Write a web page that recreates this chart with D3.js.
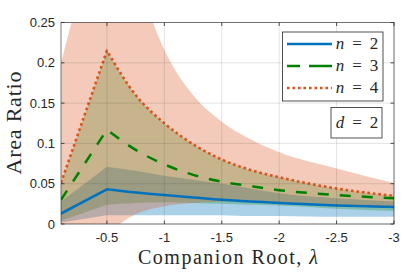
<!DOCTYPE html>
<html><head><meta charset="utf-8">
<script src="https://cdn.jsdelivr.net/npm/d3@7"></script>
<style>html,body{margin:0;padding:0;background:#fff;}svg{display:block;}</style>
</head><body>
<svg id="chart" width="407" height="272"></svg>
<script>
const lambda  = [-0.1, -0.5, -0.75, -1, -1.25, -1.5, -1.75, -2, -2.5, -3];
const n2Mean  = [0.013, 0.043, 0.039, 0.036, 0.033, 0.030, 0.028, 0.026, 0.023, 0.021];
const n2Upper = [0.028, 0.071, 0.066, 0.060, 0.055, 0.050, 0.044, 0.038, 0.032, 0.028];
const n2Lower = [0.002, 0.011, 0.011, 0.011, 0.011, 0.011, 0.010, 0.010, 0.009, 0.009];
const n3Mean  = [0.030, 0.117, 0.092, 0.074, 0.061, 0.0525, 0.047, 0.042, 0.036, 0.032];
const n3Upper = [0.051, 0.215, 0.160, 0.125, 0.099, 0.080, 0.067, 0.058, 0.044, 0.035];
const n3Lower = [0.004, 0.024, 0.026, 0.027, 0.026, 0.025, 0.024, 0.023, 0.019, 0.016];
const n4Mean  = [0.051, 0.215, 0.160, 0.125, 0.099, 0.080, 0.067, 0.058, 0.044, 0.035];
const n4Upper = [0.200, 0.420, 0.310, 0.216, 0.160, 0.127, 0.105, 0.089, 0.069, 0.051];
const n4Lower = [-0.010, -0.012, 0.012, 0.022, 0.026, 0.028, 0.028, 0.027, 0.023, 0.020];
const xTicks = [-0.5, -1, -1.5, -2, -2.5, -3];
const xTickLabels = ["-0.5", "-1", "-1.5", "-2", "-2.5", "-3"];
const yTicks = [0, 0.05, 0.1, 0.15, 0.2, 0.25];
const yTickLabels = ["0", "0.05", "0.1", "0.15", "0.2", "0.25"];
const seriesNames = ["2", "3", "4"];
const colors = ["#0072BD", "#008000", "#D95319"];

const svg = d3.select("#chart");
const L = 61, R = 394, T = 22.5, B = 224;
const x = d3.scaleLinear().domain([-0.1, -3]).range([L, R]);
const y = d3.scaleLinear().domain([0, 0.25]).range([B, T]);

svg.append("defs").append("clipPath").attr("id", "clip")
  .append("rect").attr("x", L).attr("y", T).attr("width", R - L).attr("height", B - T);

// first segment straight, remaining segments smooth (monotone)
const mono = d3.line().x(d => x(d[0])).y(d => y(d[1])).curve(d3.curveMonotoneX);
function edge(vals) {
  const pts = lambda.map((v, i) => [v, vals[i]]);
  return {first: pts[0], tail: pts.slice(1)};
}
function linePath(vals) {
  const e = edge(vals);
  return "M" + x(e.first[0]) + "," + y(e.first[1]) + mono(e.tail).replace(/^M/, "L");
}
function bandPath(lo, hi) {
  const u = edge(hi), l = edge(lo);
  return "M" + x(u.first[0]) + "," + y(u.first[1]) +
    mono(u.tail).replace(/^M/, "L") +
    mono(l.tail.slice().reverse()).replace(/^M/, "L") +
    "L" + x(l.first[0]) + "," + y(l.first[1]) + "Z";
}

const plot = svg.append("g").attr("clip-path", "url(#clip)");
const bands = [
  {lo: n2Lower, hi: n2Upper, c: colors[0], a: 0.33},
  {lo: n3Lower, hi: n3Upper, c: colors[1], a: 0.25},
  {lo: n4Lower, hi: n4Upper, c: colors[2], a: 0.3}
];
bands.forEach(b => {
  plot.append("path").attr("d", bandPath(b.lo, b.hi)).attr("fill", b.c).attr("fill-opacity", b.a);
});

// grid
const grid = svg.append("g");
xTicks.forEach(t => grid.append("line").attr("x1", x(t)).attr("x2", x(t)).attr("y1", T).attr("y2", B)
  .attr("stroke", "#262626").attr("stroke-opacity", 0.13).attr("stroke-width", 1));
yTicks.forEach(t => grid.append("line").attr("x1", L).attr("x2", R).attr("y1", y(t)).attr("y2", y(t))
  .attr("stroke", "#262626").attr("stroke-opacity", 0.13).attr("stroke-width", 1));

const means = [n2Mean, n3Mean, n4Mean];
const dashes = [null, "11,11", "2.6,2.9"];
means.forEach((m, k) => {
  const p = plot.append("path").attr("d", linePath(m)).attr("fill", "none")
    .attr("stroke", colors[k]).attr("stroke-width", k === 2 ? 2.6 : 2.5).attr("stroke-linejoin", "round");
  if (dashes[k]) p.attr("stroke-dasharray", dashes[k]);
});

// axes frame + ticks
const ax = svg.append("g").attr("stroke", "#262626").attr("stroke-width", 0.8);
ax.append("rect").attr("x", L).attr("y", T).attr("width", R - L).attr("height", B - T).attr("fill", "none").attr("stroke-opacity", 0.75);
xTicks.forEach(t => {
  ax.append("line").attr("x1", x(t)).attr("x2", x(t)).attr("y1", B).attr("y2", B - 3.5);
  ax.append("line").attr("x1", x(t)).attr("x2", x(t)).attr("y1", T).attr("y2", T + 3.5);
});
yTicks.forEach(t => {
  ax.append("line").attr("x1", L).attr("x2", L + 3.5).attr("y1", y(t)).attr("y2", y(t));
  ax.append("line").attr("x1", R).attr("x2", R - 3.5).attr("y1", y(t)).attr("y2", y(t));
});
const tickFont = "'Liberation Sans', Arial, sans-serif";
xTicks.forEach((t, i) => svg.append("text").attr("x", x(t)).attr("y", 242).attr("text-anchor", "middle")
  .attr("font-family", tickFont).attr("font-size", 13).attr("fill", "#262626").text(xTickLabels[i]));
yTicks.forEach((t, i) => svg.append("text").attr("x", 55).attr("y", y(t) + 4.5).attr("text-anchor", "end")
  .attr("font-family", tickFont).attr("font-size", 13).attr("fill", "#262626").text(yTickLabels[i]));

const serif = "'Liberation Serif', 'Times New Roman', serif";
const xl = svg.append("text").attr("x", 228).attr("y", 264).attr("text-anchor", "middle")
  .attr("font-family", serif).attr("font-size", 20).attr("fill", "#262626")
  .attr("textLength", 180).attr("lengthAdjust", "spacing");
xl.append("tspan").text("Companion Root, ");
xl.append("tspan").attr("font-style", "italic").text("λ");
svg.append("text").attr("transform", "translate(21,123) rotate(-90)").attr("text-anchor", "middle")
  .attr("font-family", serif).attr("font-size", 22).attr("fill", "#262626")
  .attr("textLength", 103).attr("lengthAdjust", "spacing").text("Area Ratio");

// legend
const lg = svg.append("g");
lg.append("rect").attr("x", 282.5).attr("y", 32).attr("width", 100.5).attr("height", 69)
  .attr("fill", "#fff").attr("stroke", "#262626").attr("stroke-width", 0.8);
const legDash = [null, "13,9,23", "2.6,2.9"];
const rowsY = [44, 66, 88];
seriesNames.forEach((s, k) => {
  const l = lg.append("line").attr("x1", 287).attr("x2", 332).attr("y1", rowsY[k]).attr("y2", rowsY[k])
    .attr("stroke", colors[k]).attr("stroke-width", 2.5);
  if (legDash[k]) l.attr("stroke-dasharray", legDash[k]);
  const t = lg.append("text").attr("y", rowsY[k] + 5).attr("text-anchor", "middle")
    .attr("font-family", serif).attr("font-size", 17).attr("fill", "#262626");
  t.append("tspan").attr("x", 340).attr("font-style", "italic").text("n");
  t.append("tspan").attr("x", 357).text("=");
  t.append("tspan").attr("x", 374).text(s);
});
lg.append("rect").attr("x", 331).attr("y", 107.5).attr("width", 51).attr("height", 30.5)
  .attr("fill", "#fff").attr("stroke", "#262626").attr("stroke-width", 0.8);
const dt = lg.append("text").attr("y", 128).attr("text-anchor", "middle")
  .attr("font-family", serif).attr("font-size", 17).attr("fill", "#262626");
dt.append("tspan").attr("x", 340).attr("font-style", "italic").text("d");
dt.append("tspan").attr("x", 357).text("=");
dt.append("tspan").attr("x", 374).text("2");
</script>
</body></html>
